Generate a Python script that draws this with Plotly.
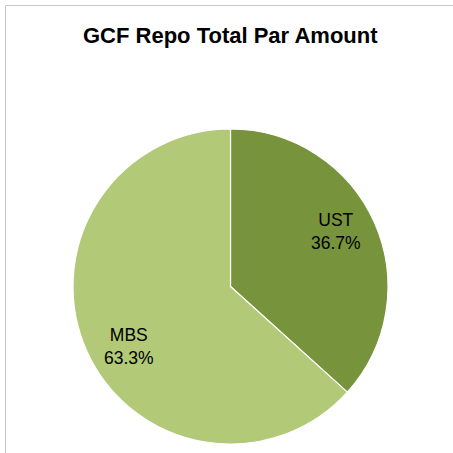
import math
import plotly.graph_objects as go

labels = ["UST", "MBS"]
values = [36.7, 63.3]
colors = ["#77933C", "#B2C978"]
title_text = "GCF Repo Total Par Amount"

W = H = 453
cx, cy, r = 230.5, 286.5, 157.5  # pixels from top-left

fig = go.Figure(go.Pie(
    labels=labels, values=values, sort=False, direction="clockwise", rotation=0,
    marker=dict(colors=colors, line=dict(color="white", width=1.2)),
    textinfo="none", hoverinfo="label+percent", showlegend=False,
    domain=dict(x=[(cx - r) / W, (cx + r) / W], y=[(H - cy - r) / H, (H - cy + r) / H]),
))

annotations = []
total = sum(values)
cum = 0
for lab, v in zip(labels, values):
    mid = (cum + v / 2) / total * 2 * math.pi - math.radians(5)
    cum += v
    px = cx + 0.75 * r * math.sin(mid) + 2
    py = cy - 0.75 * r * math.cos(mid) + 2.5
    annotations.append(dict(
        x=px / W, y=1 - py / H, xref="paper", yref="paper",
        xanchor="center", yanchor="middle",
        text=f"{lab}<br>{v:.1f}%", showarrow=False,
        font=dict(family="Liberation Sans, Arial", size=17.5, color="black"),
        align="center",
    ))

annotations.append(dict(
    x=230.5 / W, y=1 - 36 / H, xref="paper", yref="paper", text=f"<b>{title_text}</b>",
    xanchor="center", yanchor="middle",
    showarrow=False, font=dict(family="Liberation Sans, Arial", size=22, color="black"),
))

fig.update_layout(
    width=W, height=H, margin=dict(l=0, r=0, t=0, b=0),
    paper_bgcolor="white", plot_bgcolor="white",
    annotations=annotations,
    shapes=[dict(type="rect", xref="paper", yref="paper",
                 x0=5.5 / W, x1=1.02, y0=-0.02, y1=1 - 5.5 / H,
                 line=dict(color="#C8C8C8", width=1))],
)
fig.write_html("out.html", config={"displayModeBar": False},
               post_script="document.body.style.margin='0';document.body.style.overflow='hidden';")
